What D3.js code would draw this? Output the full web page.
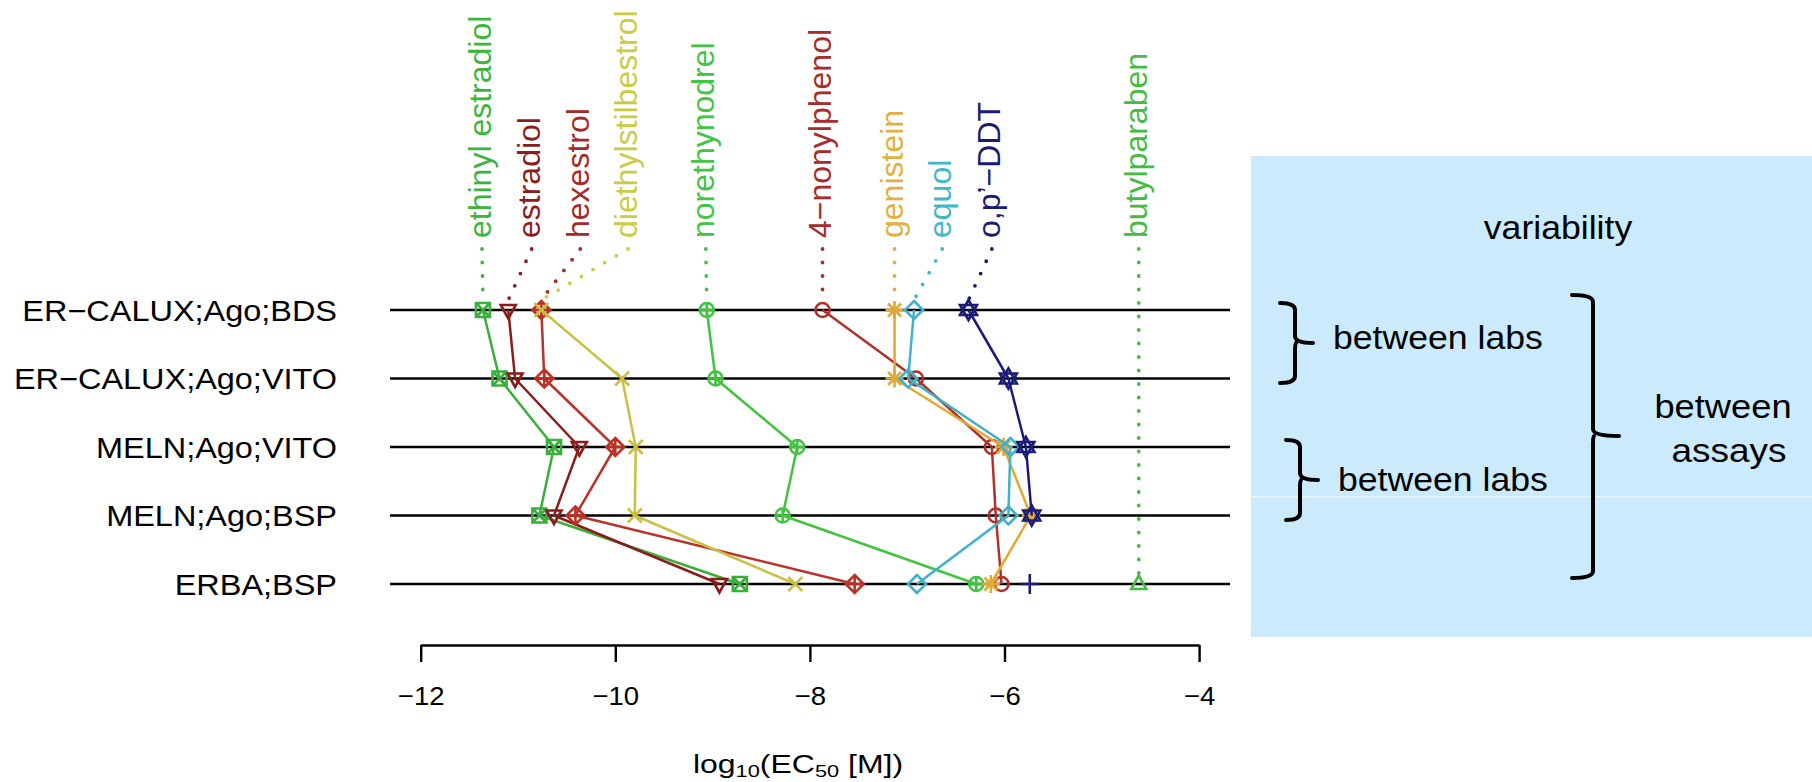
<!DOCTYPE html>
<html><head><meta charset="utf-8">
<script src="https://cdn.jsdelivr.net/npm/d3@7"></script>
<style>
body{margin:0;background:#fff}
svg{display:block}
text{font-family:"Liberation Sans",Arial,Helvetica,sans-serif}
</style>
</head><body>
<svg id="c" width="1812" height="782"></svg>
<script>
// ---------- data ----------
const assays = ["ER\u2212CALUX;Ago;BDS","ER\u2212CALUX;Ago;VITO","MELN;Ago;VITO","MELN;Ago;BSP","ERBA;BSP"];
const compounds = ["ethinyl estradiol","estradiol","hexestrol","diethylstilbestrol","norethynodrel","4\u2212nonylphenol","genistein","equol","o,p\u2019\u2212DDT","butylparaben",""];
const ethinylEstradiol   = [-11.36,-11.19,-10.63,-10.78,-8.72];
const estradiol          = [-11.10,-11.03,-10.37,-10.63,-8.93];
const hexestrol          = [-10.76,-10.73,-10.00,-10.41,-7.54];
const diethylstilbestrol = [-10.76,-9.93,-9.79,-9.80,-8.15];
const norethynodrel      = [-9.06,-8.97,-8.13,-8.28,-6.29];
const nonylphenol        = [-7.87,-6.91,-6.13,-6.09,-6.03];
const genistein          = [-7.13,-7.13,-6.01,-5.73,-6.14];
const equol              = [-6.93,-6.99,-5.94,-5.96,-6.90];
const opDDT              = [-6.37,-5.96,-5.78,-5.72,null];
const butylparaben       = [null,null,null,null,-4.62];
const unlabeled          = [null,null,null,null,-5.74];
const labelAt = [-11.37,-10.86,-10.36,-9.87,-9.07,-7.87,-7.13,-6.64,-6.13,-4.62,null];
const xTicks = [-12,-10,-8,-6,-4];
const seriesValues = [ethinylEstradiol,estradiol,hexestrol,diethylstilbestrol,norethynodrel,nonylphenol,genistein,equol,opDDT,butylparaben,unlabeled];

// ---------- styles ----------
const seriesColors = ["#3aae3a","#8b1c1c","#bb3328","#c9c043","#40c440","#b0312a","#e2a832","#3eb2c8","#1b1b7a","#45bb45","#1b1b7a"];
const labelColors  = ["#3cb53c","#8b1c1c","#a52a2a","#cccc44","#44c444","#a82c2c","#e2b040","#40b8c8","#1b1b70","#45bb45",null];
const pchs = [7,6,9,4,10,1,8,5,11,2,3];

const svg = d3.select("#c");
const font = '"Liberation Sans",Arial,Helvetica,sans-serif';

// ---------- right panel ----------
svg.append("rect").attr("x",1251).attr("y",156).attr("width",561).attr("height",481).attr("fill","#cbeafc");
svg.append("line").attr("x1",1251).attr("x2",1812).attr("y1",497).attr("y2",497).attr("stroke","#fff").attr("stroke-width",1);

function panelText(txt, x, y, size, sx, anchor){
  svg.append("g").attr("transform",`translate(${x},${y}) scale(${sx},1)`)
    .append("text").attr("text-anchor",anchor).attr("font-size",size).attr("fill","#000").text(txt);
}
panelText("variability",1558,239,33,1.08,"middle");
panelText("between labs",1333,349,33,1.08,"start");
panelText("between labs",1338,491,33,1.08,"start");
panelText("between",1723,418,33,1.1,"middle");
panelText("assays",1729,462,33,1.12,"middle");

function brace(xh, xv, xt, yt, ym, yb){
  const r = 7;
  const p = `M${xh},${yt} Q${xv},${yt} ${xv},${yt+r} L${xv},${ym-r} Q${xv},${ym} ${xt},${ym} M${xv+1},${ym} Q${xv},${ym} ${xv},${ym+r} L${xv},${yb-r} Q${xv},${yb} ${xh},${yb}`;
  svg.append("path").attr("d",p).attr("fill","none").attr("stroke","#000").attr("stroke-width",4).attr("stroke-linecap","round");
}
brace(1280,1295,1313,303,343,383);
brace(1286,1300,1318,440,480,520);
brace(1572,1593,1619,295,436,578);

// ---------- plot ----------
const x = d3.scaleLinear().domain([-12,-4]).range([420.7,1199.1]);
const y = d3.scalePoint().domain(assays).range([310,584]);

// row lines
svg.append("g").selectAll("line").data(assays).join("line")
  .attr("x1",390).attr("x2",1230)
  .attr("y1",d=>y(d)).attr("y2",d=>y(d))
  .attr("stroke","#000").attr("stroke-width",2.4);

// row labels
svg.append("g").selectAll("g").data(assays).join("g")
  .attr("transform",d=>`translate(337,${y(d)}) scale(1.1,1)`)
  .append("text").attr("text-anchor","end").attr("dy","0.36em")
  .attr("font-size",29.5).attr("fill","#000").text(d=>d);

// axis
const ax = svg.append("g").attr("transform","translate(0,645)")
  .call(d3.axisBottom(x).tickValues(xTicks).tickSize(17).tickPadding(25).tickSizeOuter(0));
ax.select(".domain").attr("stroke","#000").attr("stroke-width",2.4);
ax.selectAll(".tick line").attr("stroke","#000").attr("stroke-width",2.4);
ax.selectAll(".tick text").attr("font-size",26).attr("font-family",font).attr("fill","#000")
  .attr("transform","scale(1.06,1)");

// x label
const xl = svg.append("g").attr("transform","translate(798,773) scale(1.28,1)")
  .append("text").attr("text-anchor","middle").attr("font-size",25).attr("fill","#000");
xl.append("tspan").text("log");
xl.append("tspan").attr("font-size",17).attr("dy",4).text("10");
xl.append("tspan").attr("dy",-4).text("(EC");
xl.append("tspan").attr("font-size",17).attr("dy",4).text("50");
xl.append("tspan").attr("dy",-4).text("\u00a0[M])");

// leaders + labels
compounds.forEach((name,i)=>{
  if(!name) return;
  const vals = seriesValues[i];
  const j = vals.findIndex(v=>v!==null);
  const lx = x(labelAt[i]);
  svg.append("line")
    .attr("x1",lx).attr("y1",249)
    .attr("x2",x(vals[j])).attr("y2",y(assays[j])-10)
    .attr("stroke",labelColors[i]).attr("stroke-width",3.8)
    .attr("stroke-linecap","round").attr("stroke-dasharray","0 13.5");
  svg.append("text")
    .attr("transform",`translate(${lx},238) rotate(-90)`)
    .attr("dy","0.27em").attr("font-size",32).attr("fill",labelColors[i]).text(name);
});

// markers
function marker(g, pch, col){
  const s = {fill:"none",stroke:col,"stroke-width":2.6};
  const add = (tag, attrs)=>{const e=g.append(tag); Object.entries({...s,...attrs}).forEach(([k,v])=>e.attr(k,v)); return e;};
  const P = d=>add("path",{d});
  switch(pch){
    case 1: add("circle",{r:7}); break;
    case 2: P("M0,-8.5L7.5,5L-7.5,5Z"); break;
    case 3: P("M0,-10V10M-9,0H9"); break;
    case 4: P("M-7,-7L7,7M-7,7L7,-7"); break;
    case 5: P("M0,-9L9,0L0,9L-9,0Z"); break;
    case 6: P("M0,8.5L7.5,-5L-7.5,-5Z"); break;
    case 7: P("M-7,-7H7V7H-7ZM-7,-7L7,7M-7,7L7,-7"); break;
    case 8: P("M0,-9V9M-9,0H9M-6.5,-6.5L6.5,6.5M-6.5,6.5L6.5,-6.5"); break;
    case 9: P("M0,-9L9,0L0,9L-9,0ZM0,-9V9M-9,0H9"); break;
    case 10: add("circle",{r:7}); P("M0,-7V7M-7,0H7"); break;
    case 11: P("M0,-10L8.5,5L-8.5,5ZM0,10L8.5,-5L-8.5,-5Z"); break;
  }
}

const line = d3.line().x(d=>x(d.v)).y(d=>y(d.a));
seriesValues.forEach((vals,i)=>{
  const pts = vals.map((v,k)=>({v,a:assays[k]})).filter(d=>d.v!==null);
  const g = svg.append("g");
  if(pts.length>1){
    g.append("path").attr("d",line(pts)).attr("fill","none")
      .attr("stroke",seriesColors[i]).attr("stroke-width",2.5).attr("stroke-linejoin","round");
  }
  pts.forEach(d=>{
    marker(g.append("g").attr("transform",`translate(${x(d.v)},${y(d.a)})`), pchs[i], seriesColors[i]);
  });
});
</script>
</body></html>
